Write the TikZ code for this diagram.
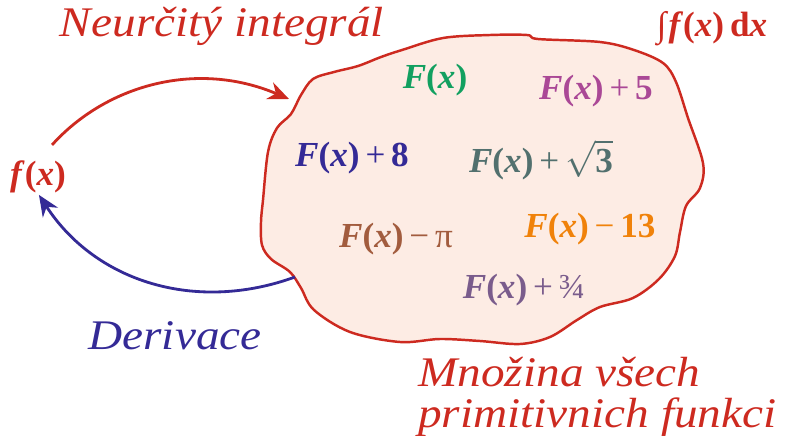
\documentclass[tikz,border=0pt]{standalone}
\usepackage{fontspec}
\setmainfont{Liberation Serif}
\newfontfamily\calfont{Liberation Serif}[FakeStretch=1.12]
\usepackage{amsmath}
\usetikzlibrary{arrows.meta}

\definecolor{myred}{RGB}{205,42,32}
\definecolor{blobfill}{RGB}{253,236,228}
\definecolor{myindigo}{RGB}{52,42,150}
\definecolor{mygreen}{RGB}{18,160,96}
\definecolor{mymagenta}{RGB}{170,72,150}
\definecolor{myslate}{RGB}{82,112,110}
\definecolor{mybrown}{RGB}{162,92,62}
\definecolor{myorange}{RGB}{240,130,10}
\definecolor{mypurple}{RGB}{122,92,140}

\newcommand{\Fx}{\textbf{\textit{F}(\textit{x})}}

\begin{document}
\begin{tikzpicture}[x=0.2mm, y=-0.2mm, >=Stealth,
    formula/.style={font=\fontsize{20}{24}\selectfont, inner sep=2pt},
    caption/.style={font=\calfont\itshape\fontsize{24}{23}\selectfont, inner sep=0pt},
    curvearrow/.style={line width=1.6pt, -{Stealth[length=4.2mm, width=3.6mm]}}]

  \useasboundingbox (0,0) rectangle (789,442);

  % the set of all antiderivatives
  \draw[myred, line width=1.4pt, fill=blobfill] plot[smooth cycle, tension=0.55] coordinates {
      (263,200) (268,152) (277,128) (291,114) (301,95) (313,79) (334,72)
      (358,66) (381,57) (402,50) (443,38) (490,35) (527,35) (538,39)
      (600,42) (634,50) (663,63) (676,82) (688,118) (703,163) (700,188)
      (686,206) (680,232) (675,256) (659,279) (633,298) (600,307) (577,320)
      (550,337) (520,344) (480,341) (440,339) (400,342) (350,332) (314,310)
      (301,288) (290,272) (271,259) (262,245) (261,222)};
  \coordinate (blobin)  at (289,99);
  \coordinate (blobout) at (295,277);

  \node[formula, text=mygreen]   (f1) at (435,80)  {\Fx};
  \node[formula, text=mymagenta] (f2) at (596,91)  {\Fx\,+\,\textbf{5}};
  \node[formula, text=myindigo]  (f3) at (352,158) {\Fx\,+\,\textbf{8}};
  \node[formula, text=myslate]   (f4) at (541,160) {\Fx\,+\,$\sqrt{\textbf{3}}$};
  \node[formula, text=mybrown]   (f5) at (396,239) {\Fx\,−\,π};
  \node[formula, text=myorange]  (f6) at (590,229) {\Fx\,−\,\textbf{13}};
  \node[formula, text=mypurple]  (f7) at (524,290) {\Fx\,+\,¾};

  \node[formula, text=myred, inner sep=0pt] (fx) at (38,177) {\textbf{\textit{f}(\textit{x})}};
  \node[formula, text=myred, inner sep=0pt] (integ) at (712,29)
      {∫\kern0.06em\textbf{\textit{f}(\textit{x})\,d\textit{x}}};

  \node[caption, text=myred] (neur) at (222,26) {Neurčitý integrál};
  \node[caption, text=myindigo] (deriv) at (175,336) {Derivace};
  \node[caption, text=myred, align=left, anchor=west] (mnoz) at (418,397)
      {Množina všech\\primitivnich funkci};

  \draw[curvearrow, myred, shorten <=0.42cm] (fx.north) to[out=48, in=157] (blobin);
  \draw[curvearrow, myindigo, shorten >=1pt] (blobout) to[out=200, in=-57] (fx.south);

\end{tikzpicture}
\end{document}
